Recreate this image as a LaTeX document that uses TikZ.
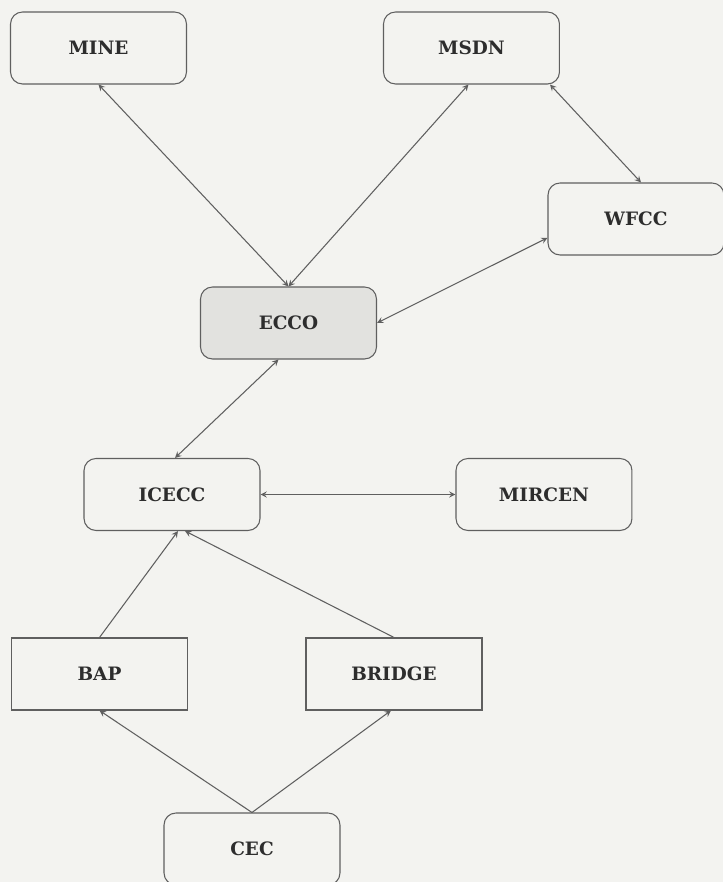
\documentclass[tikz,border=0pt]{standalone}
\usepackage{fontspec}
\setmainfont{DejaVu Serif}
\usetikzlibrary{shapes.geometric, arrows, positioning, arrows.meta}
\definecolor{paper}{RGB}{243,243,240}
\definecolor{edge}{RGB}{95,95,95}
\definecolor{ink}{RGB}{45,45,45}
\definecolor{hub}{RGB}{226,226,223}

\begin{document}
\begin{tikzpicture}[
        x=0.02cm, y=0.02cm, % one unit = one pixel of the scan
        arrow/.style={->, >=stealth, draw=edge, line width=0.6pt}, % one-way arrow
        dblarrow/.style={arrow, <->}, % two-way arrow
        org/.style={rectangle, rounded corners=0.24cm, draw=edge, line width=0.6pt, minimum height=1.44cm, minimum width=3.52cm, text=ink, font=\fontsize{10.5}{12}\selectfont\bfseries}, % rounded box
        prog/.style={org, sharp corners} % square box
    ]

        % page
        \clip (0,0) rectangle (723,882);
        \fill[paper] (0,0) rectangle (723,882);

        % Top row
        \node (mine) [org] at (98.5,834) {MINE};
        \node (msdn) [org, right=3.92cm of mine] {MSDN};
        \node (wfcc) [org] at (636,663) {WFCC};

        % Centre
        \node (ecco) [org, fill=hub] at (288.5,559) {ECCO};
        \node (icecc) [org] at (172,387.5) {ICECC};
        \node (mircen) [org, right=3.9cm of icecc] {MIRCEN};

        % Programmes
        \node (bap) [prog] at (99.5,208) {BAP};
        \node (bridge) [prog, right=2.35cm of bap] {BRIDGE};
        \node (cec) [org] at (252,33) {CEC};

        % Links to ECCO
        \draw [dblarrow] (mine.south) -- (ecco.north);
        \draw [dblarrow] ([xshift=-0.06cm]msdn.south) -- (ecco.north);
        \draw [dblarrow] ([xshift=-0.2cm]msdn.south east) -- ([xshift=0.1cm]wfcc.north);
        \draw [dblarrow] (wfcc.192) -- (ecco.east);
        \draw [dblarrow] ([xshift=-0.2cm]ecco.south) -- ([xshift=0.06cm]icecc.north);

        % ICECC and MIRCEN
        \draw [dblarrow] (icecc.east) -- (mircen.west);

        % Bottom flow (upward)
        \draw [arrow] (bap.north) -- ([xshift=0.12cm]icecc.south);
        \draw [arrow] (bridge.north) -- ([xshift=0.26cm]icecc.south);
        \draw [arrow] (cec.north) -- (bap.south);
        \draw [arrow] (cec.north) -- ([xshift=-0.06cm]bridge.south);

    \end{tikzpicture}
\end{document}
